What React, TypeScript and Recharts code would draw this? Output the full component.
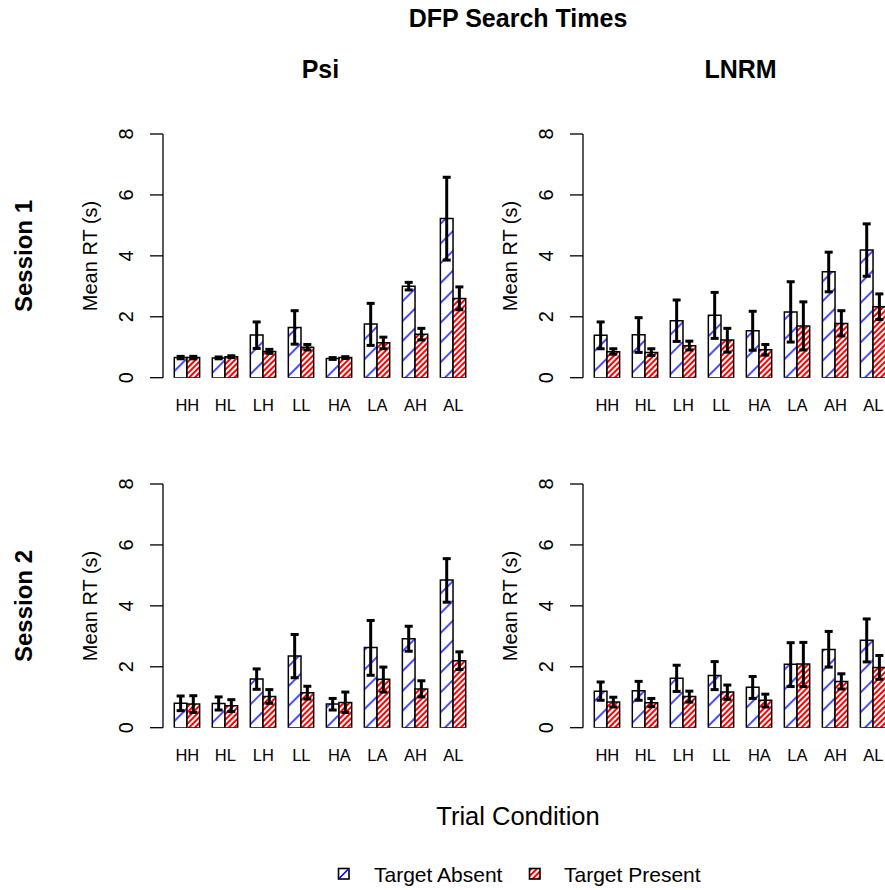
import React from 'react';
import { BarChart, Bar, XAxis, YAxis, ErrorBar } from 'recharts';

const FONT = '"Liberation Sans", Arial, Helvetica, sans-serif';

const conditions = ['HH', 'HL', 'LH', 'LL', 'HA', 'LA', 'AH', 'AL'];
const yTicks = [0, 2, 4, 6, 8];

// Psi, Session 1
const psiS1AbsentMean = [0.66, 0.65, 1.40, 1.65, 0.63, 1.76, 3.00, 5.23];
const psiS1AbsentLow = [0.62, 0.62, 0.96, 1.10, 0.60, 1.06, 2.88, 3.86];
const psiS1AbsentHigh = [0.70, 0.68, 1.83, 2.20, 0.66, 2.44, 3.13, 6.58];
const psiS1PresentMean = [0.66, 0.69, 0.86, 1.00, 0.66, 1.15, 1.43, 2.60];
const psiS1PresentLow = [0.62, 0.66, 0.80, 0.91, 0.63, 0.95, 1.24, 2.23];
const psiS1PresentHigh = [0.70, 0.72, 0.93, 1.09, 0.69, 1.33, 1.62, 2.98];

// LNRM, Session 1
const lnrmS1AbsentMean = [1.39, 1.41, 1.87, 2.05, 1.54, 2.16, 3.48, 4.19];
const lnrmS1AbsentLow = [0.95, 0.83, 1.19, 1.29, 0.90, 1.17, 2.82, 3.33];
const lnrmS1AbsentHigh = [1.83, 1.97, 2.55, 2.80, 2.18, 3.15, 4.12, 5.05];
const lnrmS1PresentMean = [0.85, 0.83, 1.05, 1.24, 0.92, 1.70, 1.78, 2.33];
const lnrmS1PresentLow = [0.77, 0.73, 0.91, 0.84, 0.74, 0.91, 1.37, 1.91];
const lnrmS1PresentHigh = [0.95, 0.95, 1.20, 1.62, 1.09, 2.49, 2.20, 2.75];

// Psi, Session 2
const psiS2AbsentMean = [0.80, 0.79, 1.60, 2.35, 0.78, 2.63, 2.92, 4.85];
const psiS2AbsentLow = [0.56, 0.58, 1.26, 1.64, 0.58, 1.72, 2.51, 4.12];
const psiS2AbsentHigh = [1.04, 1.01, 1.93, 3.06, 0.96, 3.52, 3.33, 5.55];
const psiS2PresentMean = [0.78, 0.72, 1.02, 1.15, 0.83, 1.59, 1.27, 2.20];
const psiS2PresentLow = [0.50, 0.53, 0.80, 0.94, 0.50, 1.17, 1.01, 1.91];
const psiS2PresentHigh = [1.05, 0.92, 1.25, 1.36, 1.17, 1.99, 1.54, 2.49];

// LNRM, Session 2
const lnrmS2AbsentMean = [1.20, 1.21, 1.62, 1.71, 1.33, 2.08, 2.57, 2.87];
const lnrmS2AbsentLow = [0.90, 0.90, 1.19, 1.25, 0.96, 1.35, 1.99, 2.16];
const lnrmS2AbsentHigh = [1.50, 1.52, 2.05, 2.17, 1.68, 2.79, 3.16, 3.57];
const lnrmS2PresentMean = [0.84, 0.82, 1.02, 1.17, 0.90, 2.09, 1.52, 1.98];
const lnrmS2PresentLow = [0.68, 0.69, 0.84, 0.93, 0.68, 1.35, 1.27, 1.59];
const lnrmS2PresentHigh = [1.00, 0.96, 1.20, 1.40, 1.10, 2.80, 1.77, 2.37];

function buildRows(
  aM: number[], aL: number[], aH: number[],
  pM: number[], pL: number[], pH: number[]
) {
  return conditions.map((c, i) => ({
    cond: c,
    absent: aM[i],
    present: pM[i],
    absentErr: [aM[i] - aL[i], aH[i] - aM[i]],
    presentErr: [pM[i] - pL[i], pH[i] - pM[i]],
  }));
}

const CatTick = (props: any) => {
  const { x, y, payload } = props;
  return (
    <text x={x} y={y + 33} textAnchor="middle" fontSize={16.5} fontFamily={FONT} fill="#000">
      {payload.value}
    </text>
  );
};

const ValTick = (props: any) => {
  const { x, y, payload } = props;
  const bx = x - 16.5;
  return (
    <text
      x={bx}
      y={y}
      transform={`rotate(-90, ${bx}, ${y})`}
      textAnchor="middle"
      fontSize={20}
      fontFamily={FONT}
      fill="#000"
    >
      {payload.value}
    </text>
  );
};

function Patterns({ id }: { id: string }) {
  return (
    <defs>
      <pattern id={`blue-${id}`} patternUnits="userSpaceOnUse" width={14} height={14} patternTransform="rotate(45)">
        <rect x={0} y={0} width={14} height={14} fill="#fff" />
        <line x1={7} y1={0} x2={7} y2={14} stroke="#0000ff" strokeWidth={1.4} />
      </pattern>
      <pattern id={`red-${id}`} patternUnits="userSpaceOnUse" width={4} height={4} patternTransform="rotate(45)">
        <rect x={0} y={0} width={4} height={4} fill="#fff" />
        <line x1={2} y1={0} x2={2} y2={4} stroke="#ff0000" strokeWidth={2} />
      </pattern>
    </defs>
  );
}

function Panel({ rows, left, top, id }: { rows: any[]; left: number; top: number; id: string }) {
  return (
    <div style={{ position: 'absolute', left, top }}>
      <BarChart
        width={479.7}
        height={317.7}
        data={rows}
        margin={{ top: 34, right: 2, bottom: 0, left: 103 }}
        barGap={0}
        barCategoryGap={0}
      >
        <Patterns id={id} />
        <XAxis
          dataKey="cond"
          axisLine={false}
          tickLine={false}
          tickSize={0}
          tickMargin={0}
          padding={{ left: 5.3, right: 5.3 }}
          height={40}
          interval={0}
          tick={CatTick}
        />
        <YAxis
          type="number"
          domain={[0, 8]}
          ticks={yTicks}
          width={60}
          interval={0}
          allowDataOverflow
          axisLine={{ stroke: '#000', strokeWidth: 1.3 }}
          tickLine={{ stroke: '#000', strokeWidth: 1.3 }}
          tickSize={13}
          tickMargin={0}
          tick={ValTick}
        />
        <Bar
          dataKey="absent"
          fill={`url(#blue-${id})`}
          stroke="#000"
          strokeWidth={1.5}
          barSize={12.67}
          isAnimationActive={false}
        >
          <ErrorBar dataKey="absentErr" width={4} strokeWidth={3} stroke="#000" direction="y" />
        </Bar>
        <Bar
          dataKey="present"
          fill={`url(#red-${id})`}
          stroke="#000"
          strokeWidth={1.5}
          barSize={12.67}
          isAnimationActive={false}
        >
          <ErrorBar dataKey="presentErr" width={4} strokeWidth={3} stroke="#000" direction="y" />
        </Bar>
      </BarChart>
    </div>
  );
}

const psiS1 = buildRows(psiS1AbsentMean, psiS1AbsentLow, psiS1AbsentHigh, psiS1PresentMean, psiS1PresentLow, psiS1PresentHigh);
const lnrmS1 = buildRows(lnrmS1AbsentMean, lnrmS1AbsentLow, lnrmS1AbsentHigh, lnrmS1PresentMean, lnrmS1PresentLow, lnrmS1PresentHigh);
const psiS2 = buildRows(psiS2AbsentMean, psiS2AbsentLow, psiS2AbsentHigh, psiS2PresentMean, psiS2PresentLow, psiS2PresentHigh);
const lnrmS2 = buildRows(lnrmS2AbsentMean, lnrmS2AbsentLow, lnrmS2AbsentHigh, lnrmS2PresentMean, lnrmS2PresentLow, lnrmS2PresentHigh);

function RotText({ x, y, size, bold, children }: any) {
  return (
    <text
      x={x}
      y={y}
      transform={`rotate(-90, ${x}, ${y})`}
      textAnchor="middle"
      fontSize={size}
      fontWeight={bold ? 'bold' : 'normal'}
      fontFamily={FONT}
      fill="#000"
    >
      {children}
    </text>
  );
}

export default function App() {
  return (
    <div
      style={{
        position: 'absolute',
        left: 0,
        top: 0,
        width: 885,
        height: 890,
        overflow: 'hidden',
        background: '#fff',
        fontFamily: FONT,
      }}
    >
      <svg width={885} height={890} style={{ position: 'absolute', left: 0, top: 0 }}>
        <Patterns id="legend" />
        <text x={518} y={27} textAnchor="middle" fontSize={25} fontWeight="bold" fontFamily={FONT}>
          DFP Search Times
        </text>
        <text x={320.4} y={78} textAnchor="middle" fontSize={25} fontWeight="bold" fontFamily={FONT}>
          Psi
        </text>
        <text x={740.6} y={78} textAnchor="middle" fontSize={25} fontWeight="bold" fontFamily={FONT}>
          LNRM
        </text>
        <RotText x={31.5} y={256} size={24} bold>Session 1</RotText>
        <RotText x={31.5} y={606} size={24} bold>Session 2</RotText>
        <RotText x={97} y={256} size={20}>Mean RT (s)</RotText>
        <RotText x={97} y={606} size={20}>Mean RT (s)</RotText>
        <RotText x={517.3} y={256} size={20}>Mean RT (s)</RotText>
        <RotText x={517.3} y={606} size={20}>Mean RT (s)</RotText>
        <text x={518} y={825} textAnchor="middle" fontSize={25.5} fontFamily={FONT}>
          Trial Condition
        </text>
        {/* legend */}
        <rect x={338.5} y={868.5} width={10.5} height={10.5} fill="#fff" stroke="#000" strokeWidth={1.6} />
        <line x1={339.3} y1={878.2} x2={348.2} y2={869.3} stroke="#0000ff" strokeWidth={1.6} />
        <text x={374} y={882} fontSize={21} fontFamily={FONT}>Target Absent</text>
        <rect x={529.5} y={868.5} width={10.5} height={10.5} fill="url(#red-legend)" stroke="#000" strokeWidth={1.6} />
        <text x={564} y={882} fontSize={21} fontFamily={FONT}>Target Present</text>
      </svg>
      <Panel rows={psiS1} left={0} top={100} id="p1" />
      <Panel rows={lnrmS1} left={420.3} top={100} id="l1" />
      <Panel rows={psiS2} left={0} top={450} id="p2" />
      <Panel rows={lnrmS2} left={420.3} top={450} id="l2" />
    </div>
  );
}
